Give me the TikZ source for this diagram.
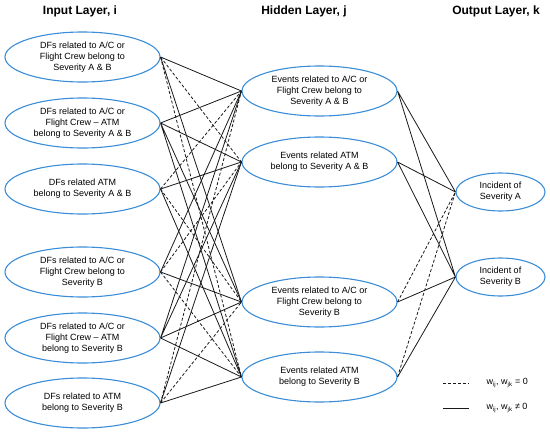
\documentclass[tikz,border=0pt]{standalone}
\usepackage{fontspec}
\setmainfont{Liberation Sans}
\usetikzlibrary{shapes.geometric}
\definecolor{AzulClaro}{HTML}{3A8DD6}

\begin{document}
\begin{tikzpicture}[x=1pt,y=-1pt,
    titulo/.style={font=\bfseries\fontsize{12}{14}\selectfont},
    elipse/.style={ellipse, draw=AzulClaro, line width=1.1pt,
        minimum width=155pt, minimum height=50pt, inner sep=0pt,
        align=center, font=\fontsize{9}{11}\selectfont},
    saida/.style={elipse, minimum width=89pt, minimum height=38pt},
    peso/.style={draw=black!90, line width=0.8pt},
    nulo/.style={peso, dash pattern=on 3pt off 2pt},
    legenda/.style={anchor=west, font=\fontsize{9}{11}\selectfont}]
    \useasboundingbox (0,0) rectangle (550,434);

    % titulos das camadas
    \node[titulo] (tEntrada) at (80,11) {Input Layer, i};
    \node[titulo] (tOculta) at (304,11) {Hidden Layer, j};
    \node[titulo] (tSaida) at (496,11) {Output Layer, k};

    % camada de entrada
    \node[elipse] (e1) at (82.5,57) {DFs related to A/C or\\Flight Crew belong to\\Severity A \& B};
    \node[elipse] (e2) at (82.5,123) {DFs related to A/C or\\Flight Crew – ATM\\belong to Severity A \& B};
    \node[elipse] (e3) at (82.5,189) {DFs related ATM\\belong to Severity A \& B};
    \node[elipse] (e4) at (82.5,272) {DFs related to A/C or\\Flight Crew belong to\\Severity B};
    \node[elipse] (e5) at (82.5,338) {DFs related to A/C or\\Flight Crew – ATM\\belong to Severity B};
    \node[elipse] (e6) at (82.5,403) {DFs related to ATM\\belong to Severity B};

    % camada oculta
    \node[elipse] (o1) at (319.5,91) {Events related to A/C or\\Flight Crew belong to\\Severity A \& B};
    \node[elipse] (o2) at (319.5,162) {Events related ATM\\belong to Severity A \& B};
    \node[elipse] (o3) at (319.5,302) {Events related to A/C or\\Flight Crew belong to\\Severity B};
    \node[elipse] (o4) at (319.5,377) {Events related ATM\\belong to Severity B};

    % camada de saida
    \node[saida] (s1) at (500.5,192) {Incident of\\Severity A};
    \node[saida] (s2) at (500.5,277) {Incident of\\Severity B};

    % pesos entrada -> oculta
    \draw[peso] (e1.east) -- (o1.west) (e1.east) -- (o3.west);
    \draw[nulo] (e1.east) -- (o2.west) (e1.east) -- (o4.west);
    \draw[peso] (e2.east) -- (o1.west) (e2.east) -- (o2.west)
                (e2.east) -- (o3.west) (e2.east) -- (o4.west);
    \draw[peso] (e3.east) -- (o2.west) (e3.east) -- (o4.west);
    \draw[nulo] (e3.east) -- (o1.west) (e3.east) -- (o3.west);
    \draw[peso] (e4.east) -- (o1.west) (e4.east) -- (o3.west);
    \draw[nulo] (e4.east) -- (o2.west) (e4.east) -- (o4.west);
    \draw[peso] (e5.east) -- (o1.west) (e5.east) -- (o2.west)
                (e5.east) -- (o3.west) (e5.east) -- (o4.west);
    \draw[peso] (e6.east) -- (o2.west) (e6.east) -- (o4.west);
    \draw[nulo] (e6.east) -- (o1.west) (e6.east) -- (o3.west);

    % pesos oculta -> saida
    \draw[peso] (o1.east) -- (s1.west) (o1.east) -- (s2.west)
                (o2.east) -- (s1.west) (o2.east) -- (s2.west)
                (o3.east) -- (s2.west) (o4.east) -- (s2.west);
    \draw[nulo] (o3.east) -- (s1.west) (o4.east) -- (s1.west);

    % legenda
    \coordinate (l1a) at (443,383);
    \coordinate (l1b) at (469,383);
    \coordinate (l2a) at (443,408);
    \coordinate (l2b) at (469,408);
    \draw[nulo] (l1a) -- (l1b);
    \draw[peso] (l2a) -- (l2b);
    \node[legenda] (leg1) at (483,383) {w\textsubscript{ij}, w\textsubscript{jk} = 0};
    \node[legenda] (leg2) at (483,408) {w\textsubscript{ij}, w\textsubscript{jk} ≠ 0};
\end{tikzpicture}
\end{document}
